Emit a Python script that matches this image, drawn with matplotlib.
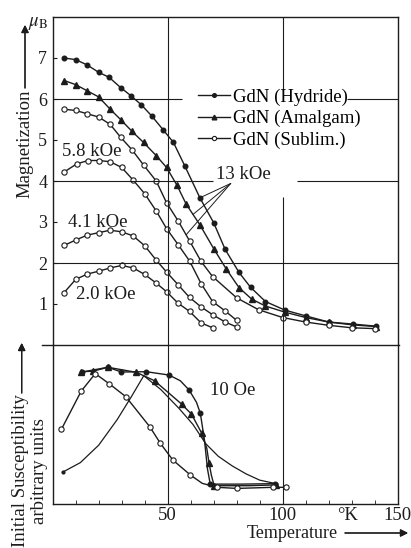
import numpy as np
import matplotlib
matplotlib.use("Agg")
import matplotlib.pyplot as plt
from matplotlib.lines import Line2D

plt.rcParams["font.family"] = ["Liberation Serif", "DejaVu Serif"]
plt.rcParams["mathtext.fontset"] = "stix"

INK = "#1c1c1c"

# Magnetization (mu_B) vs temperature (K), 13 kOe
t_hyd = [5, 10, 15, 20, 24.5, 29.5, 34, 38.5, 43, 48, 52.5, 57.5, 64, 70, 75, 81, 86, 92.5, 101, 110, 120, 130.5, 140.5]
m_hyd = [7.0, 6.96, 6.83, 6.65, 6.53, 6.28, 6.08, 5.86, 5.59, 5.25, 4.94, 4.36, 3.59, 2.98, 2.33, 1.77, 1.41, 1.06, 0.85, 0.71, 0.56, 0.51, 0.46]

t_ama = [5, 10, 15, 20, 25, 29.5, 34.5, 39.5, 45, 49.5, 54, 58, 64, 70, 75.5, 81, 86.5, 92.5, 101, 110, 120, 130.5, 140.5]
m_ama = [6.45, 6.35, 6.2, 6.05, 5.75, 5.5, 5.21, 4.94, 4.62, 4.33, 3.9, 3.44, 2.93, 2.35, 1.85, 1.4, 1.12, 0.95, 0.8, 0.67, 0.56, 0.49, 0.45]

t_sub = [5, 10, 15, 20, 25, 29.5, 34.5, 39.5, 45, 49.5, 54.5, 59.5, 64.5, 69.5, 80, 89.5, 100, 110, 120, 130, 140]
m_sub = [5.75, 5.72, 5.64, 5.56, 5.38, 5.07, 4.76, 4.39, 4.0, 3.47, 3.03, 2.54, 2.04, 1.67, 1.15, 0.86, 0.67, 0.56, 0.48, 0.42, 0.40]

# sublimed sample at lower fields
t_58 = [5, 10.5, 15.5, 20, 25, 30, 35, 40, 45, 49.5, 54.5, 59.5, 64.5, 69.5, 75, 80]
m_58 = [4.22, 4.42, 4.5, 4.5, 4.47, 4.33, 4.02, 3.69, 3.27, 2.84, 2.45, 2.05, 1.5, 1.06, 0.83, 0.6]

t_41 = [5, 10, 15, 20, 25, 30, 35, 40, 45, 49.5, 54.5, 59.5, 64.5, 69.5, 75, 80]
m_41 = [2.43, 2.56, 2.68, 2.74, 2.8, 2.76, 2.66, 2.42, 2.07, 1.78, 1.47, 1.16, 0.93, 0.74, 0.56, 0.44]

t_20 = [5, 10, 15, 20, 25, 30, 35, 40, 45, 49.5, 54.5, 59.5, 64.5, 69.5]
m_20 = [1.28, 1.6, 1.73, 1.8, 1.88, 1.94, 1.88, 1.72, 1.51, 1.3, 1.02, 0.82, 0.54, 0.42]

# Initial susceptibility at 10 Oe (arbitrary units)
chi_t_hyd = [12.8, 24, 29.9, 40.7, 50.6, 55.5, 59.3, 62.5, 64.2, 66, 67.3, 68.5, 82, 96.5]
chi_hyd = [8.3, 8.6, 8.3, 8.32, 8.11, 7.75, 7.17, 6.4, 5.7, 4.0, 2.2, 1.25, 1.25, 1.28]
chi_hyd_marks = [0, 1, 2, 3, 4, 6, 8, 11, 13]

chi_t_ama = [12.4, 17.5, 24, 36.4, 44.3, 56, 60.3, 64.8, 67, 68, 69, 70.2, 85, 97]
chi_ama = [8.32, 8.35, 8.6, 8.28, 7.75, 6.29, 5.66, 4.45, 3.5, 2.56, 1.8, 1.15, 1.15, 1.2]
chi_ama_marks = [0, 1, 2, 3, 4, 5, 6, 7, 9, 11, 13]

chi_t_sub = [3.8, 12.4, 18.5, 24.5, 31.8, 42.2, 46.8, 52.2, 59.9, 65, 71.4, 80.1, 95.8, 101.6]
chi_sub = [4.7, 7.1, 8.2, 7.57, 6.75, 4.86, 3.82, 2.77, 1.82, 1.3, 1.05, 0.98, 1.05, 1.05]
chi_sub_marks = [0, 1, 2, 3, 4, 5, 6, 7, 8, 10, 11, 12, 13]

# smooth curve without data points
chi_t_calc = [4.3, 12, 20, 28, 34, 39.6, 47, 55, 61, 66.5, 72, 78, 84, 90, 98]
chi_calc = [2.0, 2.6, 3.7, 5.3, 6.7, 8.07, 7.2, 6.0, 5.0, 3.8, 3.0, 2.4, 1.9, 1.5, 1.25]

legend_labels = ["GdN (Hydride)", "GdN (Amalgam)", "GdN (Sublim.)"]
mag_ticks = [1, 2, 3, 4, 5, 6, 7]
temp_ticks = [50, 100, 150]

W, H = 411, 548


def fx(px):
    return px / W


def fy(py):
    return 1 - py / H


fig = plt.figure(figsize=(4.11, 5.48), dpi=100)
ax = fig.add_axes([fx(52.7), fy(345), fx(397.7) - fx(52.7), fy(17) - fy(345)])
bx = fig.add_axes([fx(52.7), fy(504), fx(397.7) - fx(52.7), fy(345) - fy(504)])

filled = dict(color=INK, lw=1.0, marker="o", ms=3.3, mfc=INK, mec=INK)
tri = dict(color=INK, lw=1.0, marker="^", ms=4.2, mfc=INK, mec=INK)
hollow = dict(color=INK, lw=1.0, marker="o", ms=3.8, mfc="white", mec=INK, mew=0.8)
grid = dict(color=INK, lw=0.8)

# top panel: magnetization
ax.plot(t_hyd, m_hyd, label=legend_labels[0], **filled)
ax.plot(t_ama, m_ama, label=legend_labels[1], **tri)
ax.plot(t_sub, m_sub, label=legend_labels[2], **hollow)
for t, m in [(t_58, m_58), (t_41, m_41), (t_20, m_20)]:
    ax.plot(t, m, **hollow)

ax.hlines(2, 0, 150, **grid)
ax.hlines([4, 4], [0, 106], [69.7, 150], **grid)
ax.hlines([6, 6], [0, 128], [56, 150], **grid)
ax.vlines(50, 0, 8, **grid)
ax.vlines([100, 100], [0, 6.2], [3.62, 8], **grid)

ax.set_xlim(0, 150)
ax.set_ylim(0, 8)
ax.set_xticks([])
ax.set_yticks(mag_ticks)
ax.tick_params(axis="y", direction="in", length=3, pad=4, labelsize=13, colors=INK)
ax.spines["bottom"].set_visible(False)
for s in ["left", "top", "right"]:
    ax.spines[s].set_color(INK)
    ax.spines[s].set_linewidth(1.0)

ax.legend(loc="upper left", bbox_to_anchor=(63.2, 6.25), bbox_transform=ax.transData,
          frameon=False, fontsize=13.5, handlelength=1.7, handletextpad=0.15,
          labelspacing=0.21, borderpad=0, borderaxespad=0, markerscale=0.8)

ax.text(4.0, 4.61, "5.8 kOe", fontsize=13.5, color=INK)
ax.text(6.8, 2.89, "4.1 kOe", fontsize=13.5, color=INK)
ax.text(10.0, 1.12, "2.0 kOe", fontsize=13.5, color=INK)
ax.text(82.9, 4.04, "13 kOe", fontsize=13.5, color=INK, ha="center")

# pointers from the 13 kOe label to the three curves
for t, m, at in [(t_hyd, m_hyd, 64), (t_ama, m_ama, 61), (t_sub, m_sub, 58)]:
    ax.annotate("", xy=(at, np.interp(at, t, m)), xytext=(77.4, 3.94),
                arrowprops=dict(arrowstyle="-", color=INK, lw=0.7, shrinkA=0, shrinkB=0))

# bottom panel: initial susceptibility
bx.plot(chi_t_hyd, chi_hyd, markevery=chi_hyd_marks, **filled)
bx.plot(chi_t_ama, chi_ama, markevery=chi_ama_marks, **tri)
bx.plot(chi_t_sub, chi_sub, markevery=chi_sub_marks, **hollow)
bx.plot(chi_t_calc, chi_calc, color=INK, lw=0.9, marker="o", ms=2, markevery=[0])

bx.vlines([50, 100], 0, 10, **grid)
bx.set_xlim(0, 150)
bx.set_ylim(0, 10)
bx.set_yticks([])
bx.set_xticks(temp_ticks + [128.2], [str(v) for v in temp_ticks] + ["°K"])
bx.set_xticks(range(10, 150, 10), minor=True)
bx.tick_params(axis="x", which="major", length=0, pad=2, labelsize=13.5, colors=INK)
bx.tick_params(axis="x", which="minor", direction="in", length=3, color=INK)
bx.spines["top"].set_visible(False)
for s in ["left", "bottom", "right"]:
    bx.spines[s].set_color(INK)
    bx.spines[s].set_linewidth(1.0)
bx.text(68.4, 6.86, "10 Oe", fontsize=13.5, color=INK)

# separator between the panels, reaching past the left axis
fig.add_artist(Line2D([fx(41.7), fx(399)], [fy(345), fy(345)], color=INK, lw=1.0))

# axis titles with arrows
fig.text(fx(24.5), fy(143.5), "Magnetization", rotation=90, ha="center", va="center",
         fontsize=13.5, color=INK)
fig.text(fx(38), fy(24), r"$\mu_\mathrm{B}$", ha="center", va="center", fontsize=13.5, color=INK)
fig.text(fx(20.7), fy(471), "Initial Susceptibility", rotation=90, ha="center", va="center",
         fontsize=13.5, color=INK)
fig.text(fx(39), fy(471), "arbitrary units", rotation=90, ha="center", va="center",
         fontsize=13.5, color=INK)
fig.text(fx(292.5), fy(538), "Temperature", ha="center", va="baseline", fontsize=13, color=INK)

arrow = dict(arrowstyle="-|>", color=INK, lw=0.9, mutation_scale=11, shrinkA=0, shrinkB=0)
for start, end in [((25, 88), (25, 25)), ((21.7, 393), (21.7, 343)), ((345, 533), (408, 533))]:
    fig.add_artist(plt.annotate("", xy=(fx(end[0]), fy(end[1])), xytext=(fx(start[0]), fy(start[1])),
                                xycoords="figure fraction", textcoords="figure fraction",
                                arrowprops=arrow))

fig.savefig("out.png", dpi=100, facecolor="white")
